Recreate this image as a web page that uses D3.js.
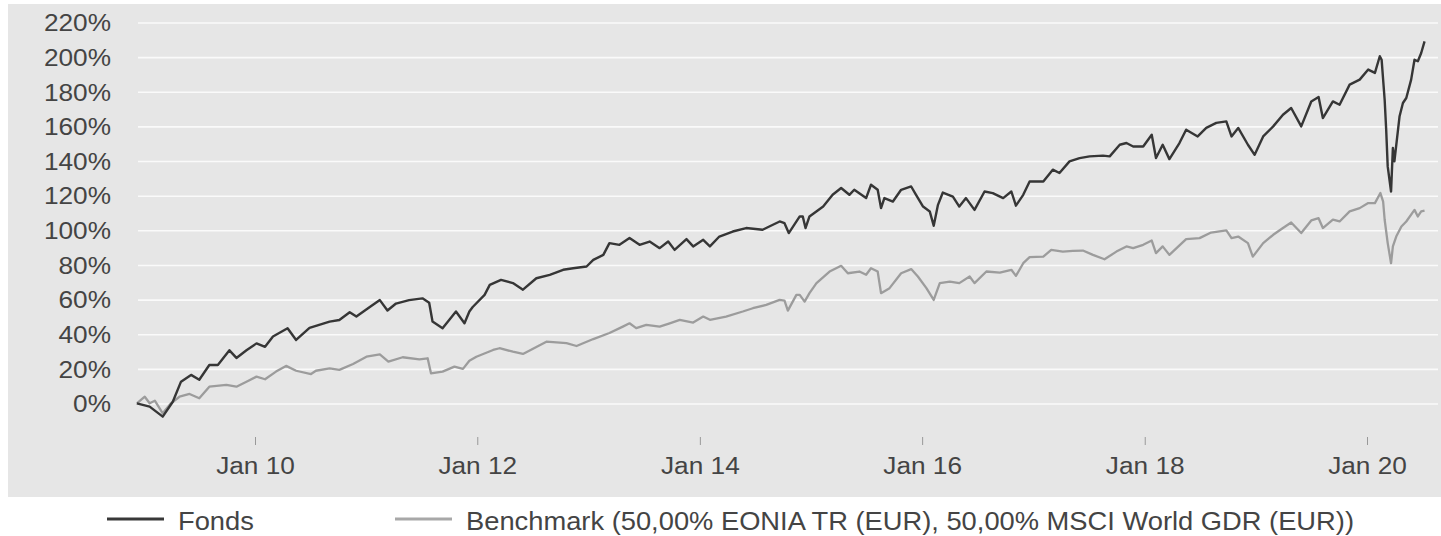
<!DOCTYPE html>
<html>
<head>
<meta charset="utf-8">
<script src="https://cdn.jsdelivr.net/npm/d3@7"></script>
<style>
  html, body { margin: 0; padding: 0; background: #fff; }
  svg { display: block; font-family: "Liberation Sans", Arial, Helvetica, sans-serif; }
</style>
</head>
<body>
<svg id="chart" width="1441" height="536"></svg>
<script>
// Fonds performance (% since start)
const fondsDates = ["2008-12-09","2009-01-20","2009-03-04","2009-04-06","2009-05-03","2009-06-05","2009-07-02","2009-08-04","2009-09-01","2009-10-09","2009-11-01","2009-12-04",
  "2010-01-06","2010-02-03","2010-03-01","2010-04-18","2010-05-16","2010-06-29","2010-09-03","2010-10-05","2010-11-08","2010-11-30",
  "2011-01-13","2011-02-15","2011-03-12","2011-04-09","2011-05-22","2011-07-05","2011-07-27","2011-08-07","2011-09-09","2011-10-23","2011-11-20","2011-12-06","2011-12-17",
  "2012-01-25","2012-02-11","2012-03-19","2012-04-27","2012-05-30","2012-07-13","2012-08-26","2012-10-09","2012-11-11","2012-12-25",
  "2013-01-16","2013-02-18","2013-03-10","2013-04-12","2013-05-15","2013-06-17","2013-07-20","2013-08-22","2013-09-19","2013-10-10","2013-11-18","2013-12-10",
  "2014-01-12","2014-02-03","2014-03-06","2014-04-19","2014-06-02","2014-07-26","2014-09-20","2014-10-06","2014-10-20","2014-11-25","2014-12-05","2014-12-14","2014-12-27",
  "2015-02-10","2015-03-13","2015-04-10","2015-05-07","2015-05-23","2015-07-01","2015-07-17","2015-08-08","2015-08-19","2015-08-30","2015-09-27","2015-10-24","2015-11-26","2015-12-12",
  "2016-01-04","2016-01-26","2016-02-08","2016-02-22","2016-03-09","2016-04-11","2016-05-02","2016-05-24","2016-06-21","2016-07-24","2016-08-20","2016-09-23","2016-10-20","2016-11-04","2016-11-28","2016-12-19",
  "2017-02-02","2017-03-05","2017-03-27","2017-04-29","2017-06-01","2017-07-04","2017-08-17","2017-09-08","2017-10-11","2017-11-02","2017-11-24","2017-12-27",
  "2018-01-24","2018-02-07","2018-03-01","2018-03-23","2018-04-25","2018-05-17","2018-06-24","2018-07-22","2018-08-24","2018-09-26","2018-10-13","2018-11-04","2018-12-06","2018-12-28",
  "2019-01-25","2019-02-27","2019-03-31","2019-04-27","2019-05-30","2019-07-02","2019-07-26","2019-08-09","2019-09-11","2019-10-03","2019-11-05","2019-12-08",
  "2020-01-05","2020-01-27","2020-02-12","2020-02-18","2020-02-28","2020-03-04","2020-03-09","2020-03-20","2020-03-26","2020-03-31","2020-04-17","2020-04-28","2020-05-09","2020-05-25","2020-06-05","2020-06-16","2020-06-27","2020-07-08"];
const fondsValues = [0.4,-1.5,-7.3,1.3,12.9,16.8,14.0,22.5,22.5,31,26.6,31,
  35,33,39,43.7,37,44,47.6,48.5,53,50.5,
  56,60,54,58,60,61,58.5,47.6,43.7,53.4,46.6,53.4,56,
  63,68.8,71.7,69.8,66,72.6,74.6,77.5,78.4,79.4,
  83.2,86.1,92.9,91.9,95.8,91.9,93.8,90,93.8,89,95.2,91,
  94.8,91,96.7,99.6,101.6,100.6,105.4,104.4,98.7,108.3,108.3,101.6,108.3,
  114,120.8,124.7,120.8,123.7,118.9,126.6,123.7,113.1,118.9,116.9,123.7,125.6,120.8,
  114,111.2,102.9,115,122.1,119.8,114,118.9,112.1,122.7,121.8,118.9,122.7,114.5,120.8,128.5,
  128.5,135.3,133.4,140.1,142,143,143.4,143,149.7,150.7,148.7,148.7,
  155.5,142,149.7,141.4,150.7,158.4,154.5,159.4,162.3,163.2,154.5,159.4,149.7,143.9,
  154.5,160.3,167,170.9,160.3,174.7,177.3,165.1,174.7,172.8,184.4,187.3,
  193.1,191.2,200.8,198.8,175.7,158.4,137.2,122.7,147.8,140.1,166.2,173.8,176.7,187.3,198.8,197.9,202.7,209.4];

// Benchmark (50% EONIA / 50% MSCI World)
const benchDates = ["2008-12-09","2009-01-04","2009-01-20","2009-02-06","2009-03-04","2009-03-31","2009-04-28","2009-05-31","2009-07-02","2009-08-04","2009-09-29","2009-11-01","2009-12-04",
  "2010-01-06","2010-02-03","2010-03-11","2010-04-13","2010-05-16","2010-07-04","2010-07-20","2010-09-03","2010-10-05","2010-11-19",
  "2011-01-02","2011-02-15","2011-03-15","2011-05-01","2011-06-25","2011-07-22","2011-08-02","2011-09-09","2011-10-18","2011-11-15","2011-12-06","2011-12-29",
  "2012-02-22","2012-03-14","2012-04-27","2012-05-30","2012-08-15","2012-10-20","2012-11-22",
  "2013-01-16","2013-03-10","2013-04-23","2013-05-15","2013-06-06","2013-07-09","2013-08-22","2013-09-24","2013-10-27","2013-12-10",
  "2014-01-12","2014-02-03","2014-03-28","2014-05-22","2014-06-24","2014-08-07","2014-09-20","2014-10-06","2014-10-17","2014-11-14","2014-11-25","2014-12-11","2014-12-27",
  "2015-01-19","2015-03-03","2015-04-10","2015-05-02","2015-06-09","2015-07-01","2015-07-17","2015-08-08","2015-08-19","2015-09-16","2015-10-24","2015-11-26","2015-12-18",
  "2016-01-15","2016-02-08","2016-02-28","2016-04-01","2016-05-02","2016-06-05","2016-06-21","2016-07-30","2016-09-12","2016-10-20","2016-11-04","2016-11-28","2016-12-19",
  "2017-02-02","2017-02-28","2017-04-07","2017-05-10","2017-06-12","2017-07-15","2017-08-22","2017-09-30","2017-11-02","2017-11-24","2017-12-27",
  "2018-01-24","2018-02-07","2018-03-01","2018-03-23","2018-05-17","2018-06-30","2018-08-07","2018-09-26","2018-10-13","2018-11-04","2018-12-06","2018-12-22",
  "2019-01-25","2019-02-27","2019-03-31","2019-04-27","2019-05-30","2019-07-02","2019-07-26","2019-08-09","2019-09-11","2019-10-03","2019-11-05","2019-12-08",
  "2020-01-05","2020-01-27","2020-02-14","2020-02-23","2020-02-28","2020-03-09","2020-03-20","2020-03-26","2020-04-06","2020-04-23","2020-05-09","2020-06-05","2020-06-16","2020-06-27","2020-07-08"];
const benchValues = [0.4,4.2,0.4,1.9,-5.4,0.4,4.2,5.8,3.3,10,11,10,12.9,
  15.8,14.3,18.7,22,19.2,17.3,19.2,20.6,19.7,23.1,
  27.3,28.6,24.5,27,25.8,26.4,17.7,18.7,21.6,20.3,25,27.3,
  31.2,32.2,30.2,28.9,36,35.1,33.5,
  37.5,41,44.7,46.6,43.8,45.7,44.7,46.6,48.6,47,
  50.5,48.6,50.5,53.4,55.3,57.2,60.1,59.7,53.9,63,63,59.1,64,
  69.8,76.5,79.8,75.5,76.5,74.6,78.4,76.5,64,66.9,75.5,77.9,73.6,
  66.9,60.1,69.8,70.7,69.8,73.6,69.8,76.5,75.9,77.5,74,81.3,84.8,
  85.1,89,88,88.4,88.6,86.1,83.6,88,91,90,91.9,
  94.4,87.1,91,86.1,95.2,95.8,99,100.2,95.8,96.7,92.9,85.1,
  92.9,97.7,101.6,104.8,98.7,106,107.3,101.6,106.4,105.4,111.2,113.1,
  116,116,121.8,116.9,106.4,92.9,81.3,91,96.7,102.5,105.4,112.1,108.3,111.2,111.6];

const yTicks = [0, 20, 40, 60, 80, 100, 120, 140, 160, 180, 200, 220];
const xTickYears = [2010, 2012, 2014, 2016, 2018, 2020];
const legendLabels = ["Fonds", "Benchmark (50,00% EONIA TR (EUR), 50,00% MSCI World GDR (EUR))"];

const parse = d3.timeParse("%Y-%m-%d");
const fonds = fondsDates.map((d, i) => ({date: parse(d), value: fondsValues[i]}));
const bench = benchDates.map((d, i) => ({date: parse(d), value: benchValues[i]}));

const svg = d3.select("#chart");
const textColor = "#444";

// stretch text a bit wider, the source font runs wide
function widen(sel, k) {
  sel.each(function() {
    const w = this.getComputedTextLength();
    d3.select(this).attr("textLength", w * k).attr("lengthAdjust", "spacingAndGlyphs");
  });
}

// Scales
const x = d3.scaleTime()
  .domain([new Date(2010, 0, 1), new Date(2020, 0, 1)])
  .range([255, 1367]);
const y = d3.scaleLinear()
  .domain([0, 220])
  .range([404, 23]);

// panel
svg.append("rect")
  .attr("x", 8).attr("y", 4)
  .attr("width", 1433).attr("height", 493)
  .attr("fill", "#e6e6e6");

// gridlines
svg.append("g").selectAll("line")
  .data(yTicks)
  .join("line")
  .attr("x1", 138).attr("x2", 1438)
  .attr("y1", d => y(d)).attr("y2", d => y(d))
  .attr("stroke", "#fafafa")
  .attr("stroke-width", 1.6);

// y labels
svg.append("g").selectAll("text")
  .data(yTicks)
  .join("text")
  .attr("x", 111)
  .attr("y", d => y(d))
  .attr("dy", "0.36em")
  .attr("text-anchor", "end")
  .attr("font-size", 23)
  .attr("fill", textColor)
  .text(d => d + "%")
  .call(widen, 1.14);

// x axis
const xAxis = d3.axisBottom(x)
  .tickValues(xTickYears.map(yr => new Date(yr, 0, 1)))
  .tickFormat(d3.timeFormat("%b %y"))
  .tickSize(8)
  .tickPadding(13);

const gx = svg.append("g")
  .attr("transform", "translate(0,437)")
  .call(xAxis);
gx.select(".domain").remove();
gx.selectAll(".tick line").attr("stroke", "#999").attr("stroke-width", 1);
gx.selectAll(".tick text")
  .attr("font-size", 23)
  .attr("font-family", "Liberation Sans, Arial, sans-serif")
  .attr("fill", textColor)
  .call(widen, 1.14);

// lines
const line = d3.line()
  .x(d => x(d.date))
  .y(d => y(d.value));

svg.append("path")
  .datum(bench)
  .attr("fill", "none")
  .attr("stroke", "#9c9c9c")
  .attr("stroke-width", 2.3)
  .attr("stroke-linejoin", "round")
  .attr("d", line);

svg.append("path")
  .datum(fonds)
  .attr("fill", "none")
  .attr("stroke", "#363636")
  .attr("stroke-width", 2.4)
  .attr("stroke-linejoin", "round")
  .attr("d", line);

// legend
const legend = svg.append("g");
const legendItems = [
  {label: legendLabels[0], color: "#383838", x: 107},
  {label: legendLabels[1], color: "#a8a8a8", x: 395}
];
legendItems.forEach(item => {
  legend.append("line")
    .attr("x1", item.x).attr("x2", item.x + 57)
    .attr("y1", 519).attr("y2", 519)
    .attr("stroke", item.color)
    .attr("stroke-width", 3);
  legend.append("text")
    .attr("x", item.x + 71)
    .attr("y", 530)
    .attr("font-size", 26)
    .attr("fill", textColor)
    .text(item.label)
    .call(widen, 1.05);
});
</script>
</body>
</html>
